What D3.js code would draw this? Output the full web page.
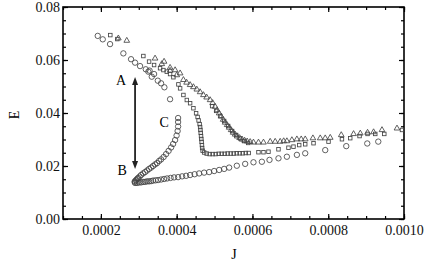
<!DOCTYPE html>
<html>
<head>
<meta charset="utf-8">
<script src="https://cdn.jsdelivr.net/npm/d3@7"></script>
<style>
  body { margin: 0; background: #fff; }
  text { font-family: "Liberation Serif", "DejaVu Serif", serif; }
</style>
</head>
<body>
<svg id="chart" width="436" height="264"></svg>
<script>
// data (J, E)
var circleJ = [0.0001917, 0.0002049, 0.0002242, 0.0002593, 0.0002796, 0.0002902, 0.0003034, 0.0003185, 0.0003253, 0.0003285,
  0.0003343, 0.0003404, 0.0003502, 0.0003589, 0.0003676, 0.0003826,
  0.0004038, 0.0004038, 0.0004038, 0.0004025, 0.0003998, 0.0003959, 0.0003906, 0.0003853, 0.0003787, 0.0003721,
  0.0003655, 0.0003589, 0.0003536, 0.0003483, 0.0003430, 0.0003377, 0.0003325, 0.0003272, 0.0003219, 0.0003166,
  0.0003113, 0.0003060, 0.0003021, 0.0002981, 0.0002955, 0.0002928, 0.0002902, 0.0002889, 0.0002902,
  0.0002955, 0.0003008, 0.0003060, 0.0003113, 0.0003166, 0.0003219, 0.0003272, 0.0003325, 0.0003377, 0.0003443,
  0.0003509, 0.0003589, 0.0003668, 0.0003747, 0.0003840, 0.0003932, 0.0004038, 0.0004144, 0.0004249, 0.0004355,
  0.0004474, 0.0004593, 0.0004725, 0.0004857, 0.0004989, 0.0005121, 0.0005253, 0.0005385, 0.0005588, 0.0005808,
  0.0006027, 0.0006249, 0.0006450, 0.0006687, 0.0006909, 0.0007173, 0.0007393, 0.0007921, 0.0008476, 0.0009030, 0.0009321];
var circleE = [0.0691, 0.0678, 0.0660, 0.0625, 0.0603, 0.0590, 0.0577, 0.0565, 0.0556, 0.0560,
  0.0537, 0.0547, 0.0522, 0.0512, 0.0497, 0.0452,
  0.0381, 0.0366, 0.0349, 0.0332, 0.0315, 0.0298, 0.0283, 0.0270, 0.0257, 0.0245,
  0.0234, 0.0225, 0.0219, 0.0211, 0.0206, 0.0200, 0.0194, 0.0189, 0.0183, 0.0177,
  0.0172, 0.0166, 0.0160, 0.0155, 0.0151, 0.0147, 0.0143, 0.0140, 0.0136,
  0.0136, 0.0138, 0.0138, 0.0140, 0.0140, 0.0142, 0.0142, 0.0143, 0.0145, 0.0146,
  0.0147, 0.0149, 0.0151, 0.0153, 0.0155, 0.0157, 0.0158, 0.0161, 0.0163, 0.0166,
  0.0169, 0.0172, 0.0175, 0.0177, 0.0181, 0.0185, 0.0189, 0.0194, 0.0201, 0.0208,
  0.0214, 0.0216, 0.0223, 0.0229, 0.0235, 0.0242, 0.0248, 0.0260, 0.0275, 0.0285, 0.0292];

var squareJ = [0.0002249, 0.0002434, 0.0003121, 0.0003272, 0.0003404, 0.0003562, 0.0003650, 0.0003739, 0.0003826, 0.0003914,
  0.0004046, 0.0004091, 0.0004178, 0.0004268, 0.0004355, 0.0004442, 0.0004513, 0.0004553, 0.0004579, 0.0004606,
  0.0004619, 0.0004627, 0.0004635, 0.0004643, 0.0004651, 0.0004659, 0.0004667, 0.0004672, 0.0004685, 0.0004725,
  0.0004791, 0.0004870, 0.0004949, 0.0005028, 0.0005108, 0.0005187, 0.0005266, 0.0005345, 0.0005425, 0.0005504,
  0.0005583, 0.0005662, 0.0005742, 0.0005821, 0.0005900, 0.0006159, 0.0006291, 0.0006423, 0.0006687, 0.0006951,
  0.0007083, 0.0007234, 0.0007393, 0.0007612, 0.0008008, 0.0008362, 0.0008581, 0.0008827, 0.0009038, 0.0009242,
  0.0009480, 0.0009947,
  0.0004936, 0.0005042, 0.0005147, 0.0005253, 0.0005359, 0.0005464, 0.0005570, 0.0005676, 0.0005781, 0.0005887];
var squareE = [0.0694, 0.0679, 0.0615, 0.0594, 0.0581, 0.0569, 0.0562, 0.0556, 0.0547, 0.0535,
  0.0508, 0.0493, 0.0468, 0.0449, 0.0437, 0.0418, 0.0399, 0.0385, 0.0372, 0.0358,
  0.0347, 0.0336, 0.0325, 0.0313, 0.0302, 0.0291, 0.0279, 0.0268, 0.0258, 0.0251,
  0.0247, 0.0245, 0.0245, 0.0245, 0.0246, 0.0246, 0.0246, 0.0247, 0.0247, 0.0247,
  0.0248, 0.0248, 0.0248, 0.0249, 0.0249, 0.0252, 0.0252, 0.0254, 0.0263, 0.0269,
  0.0273, 0.0279, 0.0282, 0.0286, 0.0292, 0.0301, 0.0305, 0.0313, 0.0321, 0.0321,
  0.0321, 0.0336,
  0.0426, 0.0408, 0.0389, 0.0370, 0.0351, 0.0332, 0.0317, 0.0304, 0.0294, 0.0287];

var triJ = [0.0002461, 0.0002683, 0.0003430, 0.0003607, 0.0003668, 0.0003826, 0.0003826, 0.0003959, 0.0004003, 0.0004091,
  0.0004178, 0.0004262, 0.0004355, 0.0004442, 0.0004532, 0.0004619, 0.0004706, 0.0004791, 0.0004883, 0.0004949,
  0.0005015, 0.0005068, 0.0005121, 0.0005174, 0.0005227, 0.0005279, 0.0005332, 0.0005385, 0.0005438, 0.0005491,
  0.0005544, 0.0005596, 0.0005662, 0.0005728, 0.0005794, 0.0005861, 0.0005940, 0.0006027, 0.0006159, 0.0006291,
  0.0006468, 0.0006600, 0.0006732, 0.0006825, 0.0006909, 0.0007041, 0.0007173, 0.0007287, 0.0007393,
  0.0007596, 0.0007789, 0.0007921, 0.0008053, 0.0008344, 0.0008669, 0.0008846, 0.0009038, 0.0009197, 0.0009419, 0.0009815];
var triE = [0.0682, 0.0673, 0.0606, 0.0585, 0.0594, 0.0571, 0.0560, 0.0562, 0.0543, 0.0550,
  0.0525, 0.0515, 0.0506, 0.0498, 0.0489, 0.0479, 0.0468, 0.0459, 0.0449, 0.0438,
  0.0424, 0.0411, 0.0399, 0.0387, 0.0375, 0.0364, 0.0355, 0.0345, 0.0336, 0.0326,
  0.0319, 0.0312, 0.0306, 0.0300, 0.0296, 0.0293, 0.0291, 0.0289, 0.0289, 0.0289,
  0.0292, 0.0292, 0.0292, 0.0294, 0.0294, 0.0298, 0.0301, 0.0301, 0.0301,
  0.0305, 0.0305, 0.0305, 0.0307, 0.0317, 0.0321, 0.0323, 0.0326, 0.0328, 0.0336, 0.0342];

var xTicks = [0.0002, 0.0004, 0.0006, 0.0008, 0.0010];
var yTicks = [0.00, 0.02, 0.04, 0.06, 0.08];
var labels = [{t: "A", J: 0.0002532, E: 0.0525}, {t: "B", J: 0.0002559, E: 0.0185}, {t: "C", J: 0.0003668, E: 0.0366}];
var arrowJ = 0.0002902, arrowE = [0.0536, 0.0189];

var svg = d3.select("#chart");
var plotL = 63, plotR = 404, plotT = 7, plotB = 219;

var x = d3.scaleLinear().domain([0.0001, 0.0010]).range([plotL, plotR]);
var y = d3.scaleLinear().domain([0, 0.08]).range([plotB, plotT]);

var xMinor = d3.range(0, 19).map(function(i) { return 0.0001 + i * 0.00005; });
var yMinor = d3.range(0, 17).map(function(i) { return i * 0.005; });

// axes, ticks inward
function drawAxis(axisFn, scale, pos, ticks, size, fmt, showLabels) {
  var a = axisFn(scale).tickValues(ticks).tickSizeInner(-size).tickSizeOuter(0)
    .tickFormat(showLabels ? fmt : "");
  var g = svg.append("g").attr("transform", pos).call(a);
  g.select(".domain").remove();
  g.selectAll("line").attr("stroke", "#000").attr("stroke-width", 1.2);
  g.selectAll("text").attr("fill", "#111").style("font-size", "14px")
    .style("font-family", "'Liberation Serif', serif");
  return g;
}

var gx = drawAxis(d3.axisBottom, x, "translate(0," + plotB + ")", xTicks, 5, d3.format(".4f"), true);
gx.selectAll("text").attr("y", 6);
drawAxis(d3.axisBottom, x, "translate(0," + plotB + ")", xMinor, 3, null, false);
drawAxis(d3.axisTop, x, "translate(0," + plotT + ")", xTicks, 5, null, false);
drawAxis(d3.axisTop, x, "translate(0," + plotT + ")", xMinor, 3, null, false);

var gy = drawAxis(d3.axisLeft, y, "translate(" + plotL + ",0)", yTicks, 5, d3.format(".2f"), true);
gy.selectAll("text").attr("x", -3);
drawAxis(d3.axisLeft, y, "translate(" + plotL + ",0)", yMinor, 3, null, false);
drawAxis(d3.axisRight, y, "translate(" + plotR + ",0)", yTicks, 5, null, false);
drawAxis(d3.axisRight, y, "translate(" + plotR + ",0)", yMinor, 3, null, false);

// the frame
svg.append("rect").attr("x", plotL).attr("y", plotT)
  .attr("width", plotR - plotL).attr("height", plotB - plotT)
  .attr("fill", "none").attr("stroke", "#000").attr("stroke-width", 1.6);

var mark = "#444";

// circles
svg.append("g").selectAll("circle").data(d3.range(circleJ.length)).enter().append("circle")
  .attr("cx", function(i) { return x(circleJ[i]); })
  .attr("cy", function(i) { return y(circleE[i]); })
  .attr("r", 2.7)
  .attr("fill", "none").attr("stroke", mark).attr("stroke-width", 0.85);

// squares
var sq = 3.5;
svg.append("g").selectAll("rect").data(d3.range(squareJ.length)).enter().append("rect")
  .attr("x", function(i) { return x(squareJ[i]) - sq / 2; })
  .attr("y", function(i) { return y(squareE[i]) - sq / 2; })
  .attr("width", sq).attr("height", sq)
  .attr("fill", "none").attr("stroke", mark).attr("stroke-width", 0.85);

// triangles
var triSym = d3.symbol().type(d3.symbolTriangle).size(14);
svg.append("g").selectAll("path").data(d3.range(triJ.length)).enter().append("path")
  .attr("d", triSym)
  .attr("transform", function(i) { return "translate(" + x(triJ[i]) + "," + y(triE[i]) + ")"; })
  .attr("fill", "none").attr("stroke", mark).attr("stroke-width", 0.85);

// double arrow
var ax = x(arrowJ), ay1 = y(arrowE[0]), ay2 = y(arrowE[1]);
svg.append("line").attr("x1", ax).attr("x2", ax).attr("y1", ay1 + 6).attr("y2", ay2 - 6)
  .attr("stroke", "#222").attr("stroke-width", 1.8);
svg.append("path").attr("d", "M" + ax + "," + ay1 + "l-3,8h6z").attr("fill", "#222");
svg.append("path").attr("d", "M" + ax + "," + ay2 + "l-3,-8h6z").attr("fill", "#222");

svg.append("g").selectAll("text").data(labels).enter().append("text")
  .attr("x", function(d) { return x(d.J); })
  .attr("y", function(d) { return y(d.E); })
  .attr("text-anchor", "middle").attr("dy", "0.35em")
  .style("font-size", "14px").text(function(d) { return d.t; });

// axis titles
svg.append("text").attr("x", 234).attr("y", 259).attr("text-anchor", "middle")
  .style("font-size", "14px").text("J");
svg.append("text").attr("transform", "translate(19,115) rotate(-90)").attr("text-anchor", "middle")
  .style("font-size", "14px").text("E");
</script>
</body>
</html>
